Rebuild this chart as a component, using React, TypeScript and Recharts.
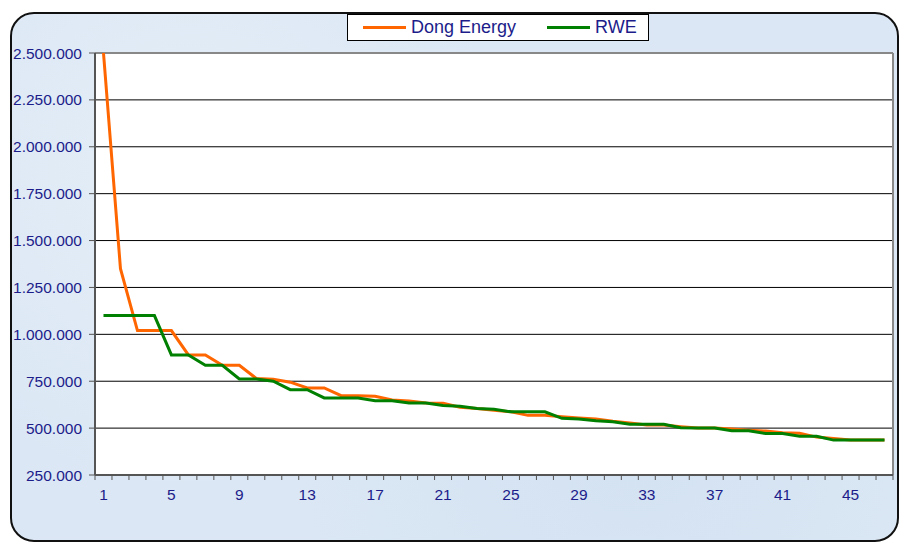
import { CartesianGrid, Line, LineChart, ReferenceLine, XAxis, YAxis } from "recharts";

const ranks = [
  1, 2, 3, 4, 5, 6, 7, 8, 9, 10, 11, 12, 13, 14, 15, 16, 17, 18, 19, 20, 21, 22, 23, 24,
  25, 26, 27, 28, 29, 30, 31, 32, 33, 34, 35, 36, 37, 38, 39, 40, 41, 42, 43, 44, 45, 46, 47,
];

const dongEnergy = [
  2500000, 1350000, 1020000, 1020000, 1020000, 890000, 890000, 835000, 835000, 765000,
  760000, 745000, 714000, 714000, 673000, 673000, 670000, 650000, 645000, 634000, 632000,
  611000, 605000, 595000, 587000, 568000, 568000, 561000, 554000, 548000, 536000, 527000,
  516000, 516000, 507000, 500000, 500000, 495000, 489000, 484000, 475000, 472000, 452000,
  445000, 436000, 436000, 436000,
];

const rwe = [
  1100000, 1100000, 1100000, 1100000, 890000, 890000, 835000, 835000, 762000, 762000,
  750000, 705000, 705000, 661000, 661000, 661000, 646000, 646000, 634000, 634000, 620000,
  616000, 604000, 600000, 587000, 587000, 587000, 552000, 548000, 539000, 534000, 521000,
  521000, 521000, 502000, 500000, 500000, 486000, 486000, 471000, 471000, 457000, 457000,
  436000, 436000, 436000, 436000,
];

const xTickLabels = [1, 5, 9, 13, 17, 21, 25, 29, 33, 37, 41, 45];
const yTicks = [
  250000, 500000, 750000, 1000000, 1250000, 1500000, 1750000, 2000000, 2250000, 2500000,
];

const series = [
  { key: "dong", name: "Dong Energy", color: "#ff6600" },
  { key: "rwe", name: "RWE", color: "#008000" },
];

const data = ranks.map((r, i) => ({ rank: r, dong: dongEnergy[i], rwe: rwe[i] }));
// tick marks sit between categories, like Excel
const boundaryTicks = [...ranks.map((r) => r - 0.5), ranks[ranks.length - 1] + 0.5];
const xDomain = [boundaryTicks[0], boundaryTicks[boundaryTicks.length - 1]];

const FONT = '"Liberation Sans", Arial, sans-serif';
const NAVY = "#1c1c8a";

const fmt = (v: number) => String(v).replace(/\B(?=(\d{3})+(?!\d))/g, ".");

// label goes half a category to the right of the boundary tick
function XTick(props: any) {
  const { x, y, width, payload } = props;
  const label = payload.value + 0.5;
  if (!xTickLabels.includes(label)) return <g />;
  const half = width / (boundaryTicks.length - 1) / 2;
  return (
    <text
      x={x + half}
      y={y}
      dy="0.71em"
      textAnchor="middle"
      fill={NAVY}
      fontSize={15.5}
      fontFamily={FONT}
    >
      {label}
    </text>
  );
}

export default function App() {
  return (
    <div
      style={{
        position: "absolute",
        left: 0,
        top: 0,
        width: 901,
        height: 545,
        background: "#fff",
        overflow: "hidden",
        fontFamily: FONT,
      }}
    >
      <div
        style={{
          position: "absolute",
          left: 10,
          top: 12,
          width: 885,
          height: 526,
          border: "2px solid #111",
          borderRadius: 24,
          background:
            "radial-gradient(circle at 20% 30%, #e4eef8 0%, rgba(228,238,248,0) 40%), radial-gradient(circle at 70% 80%, #d3e2f2 0%, rgba(211,226,242,0) 45%), #dbe7f4",
        }}
      />
      <div style={{ position: "absolute", left: 0, top: 0 }}>
        <LineChart
          width={901}
          height={545}
          data={data}
          margin={{ top: 53, right: 8, bottom: 40, left: 10 }}
        >
          <CartesianGrid vertical={false} stroke="#000" fill="#fff" fillOpacity={1} />
          <XAxis
            dataKey="rank"
            type="number"
            domain={xDomain}
            allowDataOverflow
            ticks={boundaryTicks}
            interval={0}
            height={30}
            tickSize={5}
            tickMargin={9}
            tick={<XTick />}
            axisLine={{ stroke: "#555", strokeWidth: 2 }}
            tickLine={{ stroke: "#555" }}
          />
          <YAxis
            width={85}
            domain={[yTicks[0], yTicks[yTicks.length - 1]]}
            allowDataOverflow
            ticks={yTicks}
            interval={0}
            tickFormatter={fmt}
            tickSize={6}
            tickMargin={7}
            axisLine={{ stroke: "#555", strokeWidth: 2 }}
            tickLine={{ stroke: "#555" }}
            tick={{ fill: NAVY, fontSize: 15.5, fontFamily: FONT }}
          />
          <ReferenceLine y={yTicks[yTicks.length - 1]} stroke="#888" strokeWidth={2} />
          <ReferenceLine x={xDomain[1]} stroke="#888" strokeWidth={2} />
          {series.map((s) => (
            <Line
              key={s.key}
              dataKey={s.key}
              name={s.name}
              stroke={s.color}
              strokeWidth={3}
              dot={false}
              activeDot={false}
              type="linear"
              isAnimationActive={false}
            />
          ))}
        </LineChart>
      </div>
      <div
        style={{
          position: "absolute",
          left: 347,
          top: 14,
          width: 302,
          height: 27,
          border: "1px solid #000",
          background: "#fff",
          display: "flex",
          alignItems: "center",
          fontSize: 18,
          color: NAVY,
          boxSizing: "border-box",
        }}
      >
        {series.map((s, i) => (
          <div
            key={s.key}
            style={{ display: "flex", alignItems: "center", marginLeft: i === 0 ? 15 : 31 }}
          >
            <div style={{ width: 43, height: 3, background: s.color, marginRight: 5 }} />
            <span>{s.name}</span>
          </div>
        ))}
      </div>
    </div>
  );
}
